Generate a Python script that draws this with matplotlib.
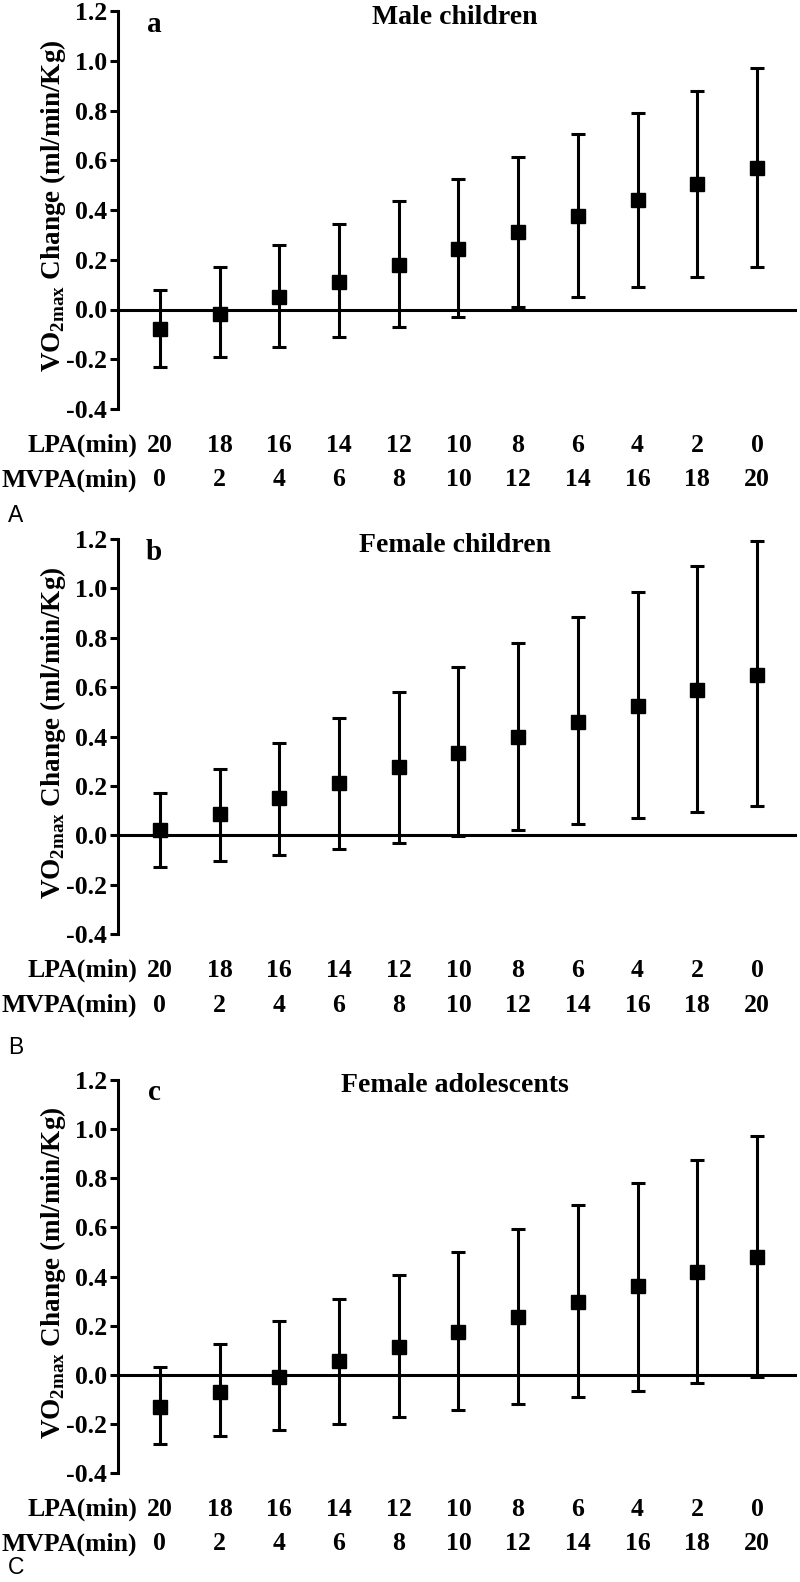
import matplotlib
matplotlib.use('Agg')
import matplotlib.pyplot as plt
import matplotlib.transforms as mtransforms
import numpy as np

# 数据
lpa_min = [20, 18, 16, 14, 12, 10, 8, 6, 4, 2, 0]
mvpa_min = [0, 2, 4, 6, 8, 10, 12, 14, 16, 18, 20]

male_mean = [-0.08, -0.02, 0.05, 0.11, 0.18, 0.245, 0.31, 0.375, 0.44, 0.505, 0.57]
male_low = [-0.23, -0.19, -0.15, -0.11, -0.07, -0.03, 0.01, 0.05, 0.09, 0.13, 0.17]
male_high = [0.08, 0.17, 0.26, 0.345, 0.435, 0.525, 0.615, 0.705, 0.79, 0.88, 0.97]

fchild_mean = [0.02, 0.085, 0.15, 0.21, 0.275, 0.335, 0.40, 0.46, 0.525, 0.59, 0.65]
fchild_low = [-0.13, -0.105, -0.08, -0.055, -0.03, -0.005, 0.02, 0.045, 0.07, 0.095, 0.12]
fchild_high = [0.17, 0.27, 0.375, 0.475, 0.58, 0.68, 0.78, 0.885, 0.985, 1.09, 1.19]

fado_mean = [-0.13, -0.07, -0.01, 0.055, 0.115, 0.175, 0.235, 0.295, 0.36, 0.42, 0.48]
fado_low = [-0.28, -0.25, -0.225, -0.20, -0.17, -0.145, -0.12, -0.09, -0.065, -0.035, -0.01]
fado_high = [0.03, 0.125, 0.22, 0.31, 0.405, 0.50, 0.595, 0.69, 0.78, 0.875, 0.97]

titles = ['Male children', 'Female children', 'Female adolescents']
small_letters = ['a', 'b', 'c']
big_letters = ['A', 'B', 'C']
y_ticks = [-0.4, -0.2, 0.0, 0.2, 0.4, 0.6, 0.8, 1.0, 1.2]

plt.rcParams['font.family'] = ['Liberation Serif', 'DejaVu Serif']
plt.rcParams['font.weight'] = 'bold'
plt.rcParams['mathtext.fontset'] = 'custom'
plt.rcParams['mathtext.rm'] = 'Liberation Serif:bold'
plt.rcParams['mathtext.bf'] = 'Liberation Serif:bold'

W, H = 800, 1582
fig = plt.figure(figsize=(W / 100, H / 100), dpi=100)

# 每个面板的上下像素位置和大写字母位置
panel_px = [(11, 409, 516), (539, 934, 1047), (1080, 1473, 1568)]
series = [(male_mean, male_low, male_high),
          (fchild_mean, fchild_low, fchild_high),
          (fado_mean, fado_low, fado_high)]

left_px, right_px = 118, 797
x = np.arange(len(lpa_min))

for i in range(3):
    top, bottom, big_y = panel_px[i]
    mean, low, high = [np.array(s) for s in series[i]]
    ax = fig.add_axes([left_px / W, 1 - bottom / H, (right_px - left_px) / W, (bottom - top) / H])

    ax.errorbar(x, mean, yerr=[mean - low, high - mean], fmt='s', color='black',
                ms=10, capsize=4.8, elinewidth=2.2, capthick=2.2)
    ax.axhline(0, color='black', lw=2.2)

    ax.set_xlim(-0.70, 10.67)
    ax.set_ylim(-0.4, 1.2)
    for s in ['top', 'right', 'bottom']:
        ax.spines[s].set_visible(False)
    ax.spines['left'].set_linewidth(2.2)
    ax.set_xticks([])
    ax.set_yticks(y_ticks)
    ax.set_yticklabels(['%.1f' % v for v in y_ticks])
    ax.tick_params(axis='y', length=6, width=2.2, pad=2, labelsize=18.5)
    for lab in ax.get_yticklabels():
        lab.set_fontweight('bold')

    # 两行横坐标标签
    row1 = mtransforms.offset_copy(ax.get_xaxis_transform(), fig=fig, x=0, y=-36, units='dots')
    row2 = mtransforms.offset_copy(ax.get_xaxis_transform(), fig=fig, x=0, y=-71, units='dots')
    for j in range(len(lpa_min)):
        ax.text(x[j], 0, str(lpa_min[j]), transform=row1, ha='center', va='center', fontsize=18.5, fontweight='bold')
        ax.text(x[j], 0, str(mvpa_min[j]), transform=row2, ha='center', va='center', fontsize=18.5, fontweight='bold')
    ax.text(-0.38, 0, 'LPA(min)', transform=row1, ha='right', va='center', fontsize=18.5, fontweight='bold')
    ax.text(-0.38, 0, 'MVPA(min)', transform=row2, ha='right', va='center', fontsize=18.5, fontweight='bold')

    fig.text(455 / W, 1 - (top + 6) / H, titles[i], ha='center', va='center', fontsize=20, fontweight='bold')
    fig.text(154 / W, 1 - (top + 13) / H, small_letters[i], ha='center', va='center', fontsize=21, fontweight='bold')
    fig.text(53 / W, 1 - ((top + bottom) / 2 - 4) / H, r'VO$_{\mathbf{2max}}$ Change (ml/min/Kg)',
             rotation=90, ha='center', va='center', fontsize=19.5, fontweight='bold')
    fig.text(8 / W, 1 - big_y / H, big_letters[i], ha='left', va='center', fontsize=16.5,
             family=['Liberation Sans', 'DejaVu Sans'], fontweight='normal')

plt.savefig('out.png', dpi=100)
